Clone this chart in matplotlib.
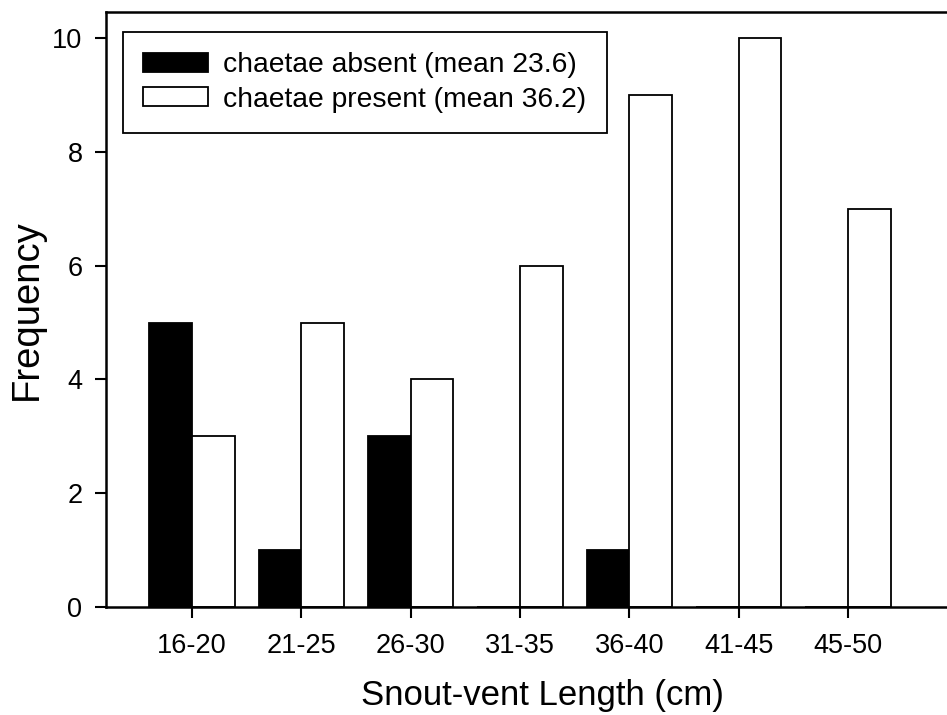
import matplotlib
matplotlib.use("Agg")
import matplotlib.pyplot as plt
import numpy as np

categories = ["16-20", "21-25", "26-30", "31-35", "36-40", "41-45", "45-50"]
absent = [5, 1, 3, 0, 1, 0, 0]
present = [3, 5, 4, 6, 9, 10, 7]
label_absent = "chaetae absent (mean 23.6)"
label_present = "chaetae present (mean 36.2)"

plt.rcParams['font.family'] = ['Liberation Sans', 'DejaVu Sans']

fig = plt.figure(figsize=(9.47, 7.15), dpi=100)
ax = fig.add_axes([106/947, 1 - 607/715, (978 - 106)/947, (607 - 12)/715])

x = np.arange(len(categories))
w = 0.39
ax.bar(x - w/2, absent, width=w, color='black', edgecolor='black', linewidth=1.3, label=label_absent)
ax.bar(x + w/2, present, width=w, color='white', edgecolor='black', linewidth=1.3, label=label_present)

ax.set_xlim(-0.787, 7.19)
ax.set_ylim(0, 10.46)
ax.set_xticks(x)
ax.set_xticklabels(categories)
ax.set_yticks([0, 2, 4, 6, 8, 10])
ax.tick_params(axis='both', direction='out', length=8, width=1.5, labelsize=19.5, colors='black')
ax.tick_params(axis='x', pad=11)
ax.tick_params(axis='y', pad=9)
ax.spines['right'].set_visible(False)
for s in ['left', 'top', 'bottom']:
    ax.spines[s].set_linewidth(1.8)

ax.set_xlabel("Snout-vent Length (cm)", fontsize=25, labelpad=14)
ax.set_ylabel("Frequency", fontsize=27.5, labelpad=5)

leg = ax.legend(loc='upper left', bbox_to_anchor=(17/(978 - 106), (607 - 32)/595), borderaxespad=0,
                fontsize=20.3, handlelength=2.3, handleheight=0.66, handletextpad=0.53,
                borderpad=0.72, labelspacing=0.3, fancybox=False, framealpha=1,
                edgecolor='black')
leg.get_frame().set_linewidth(1.3)

fig.savefig("out.png", dpi=100)
